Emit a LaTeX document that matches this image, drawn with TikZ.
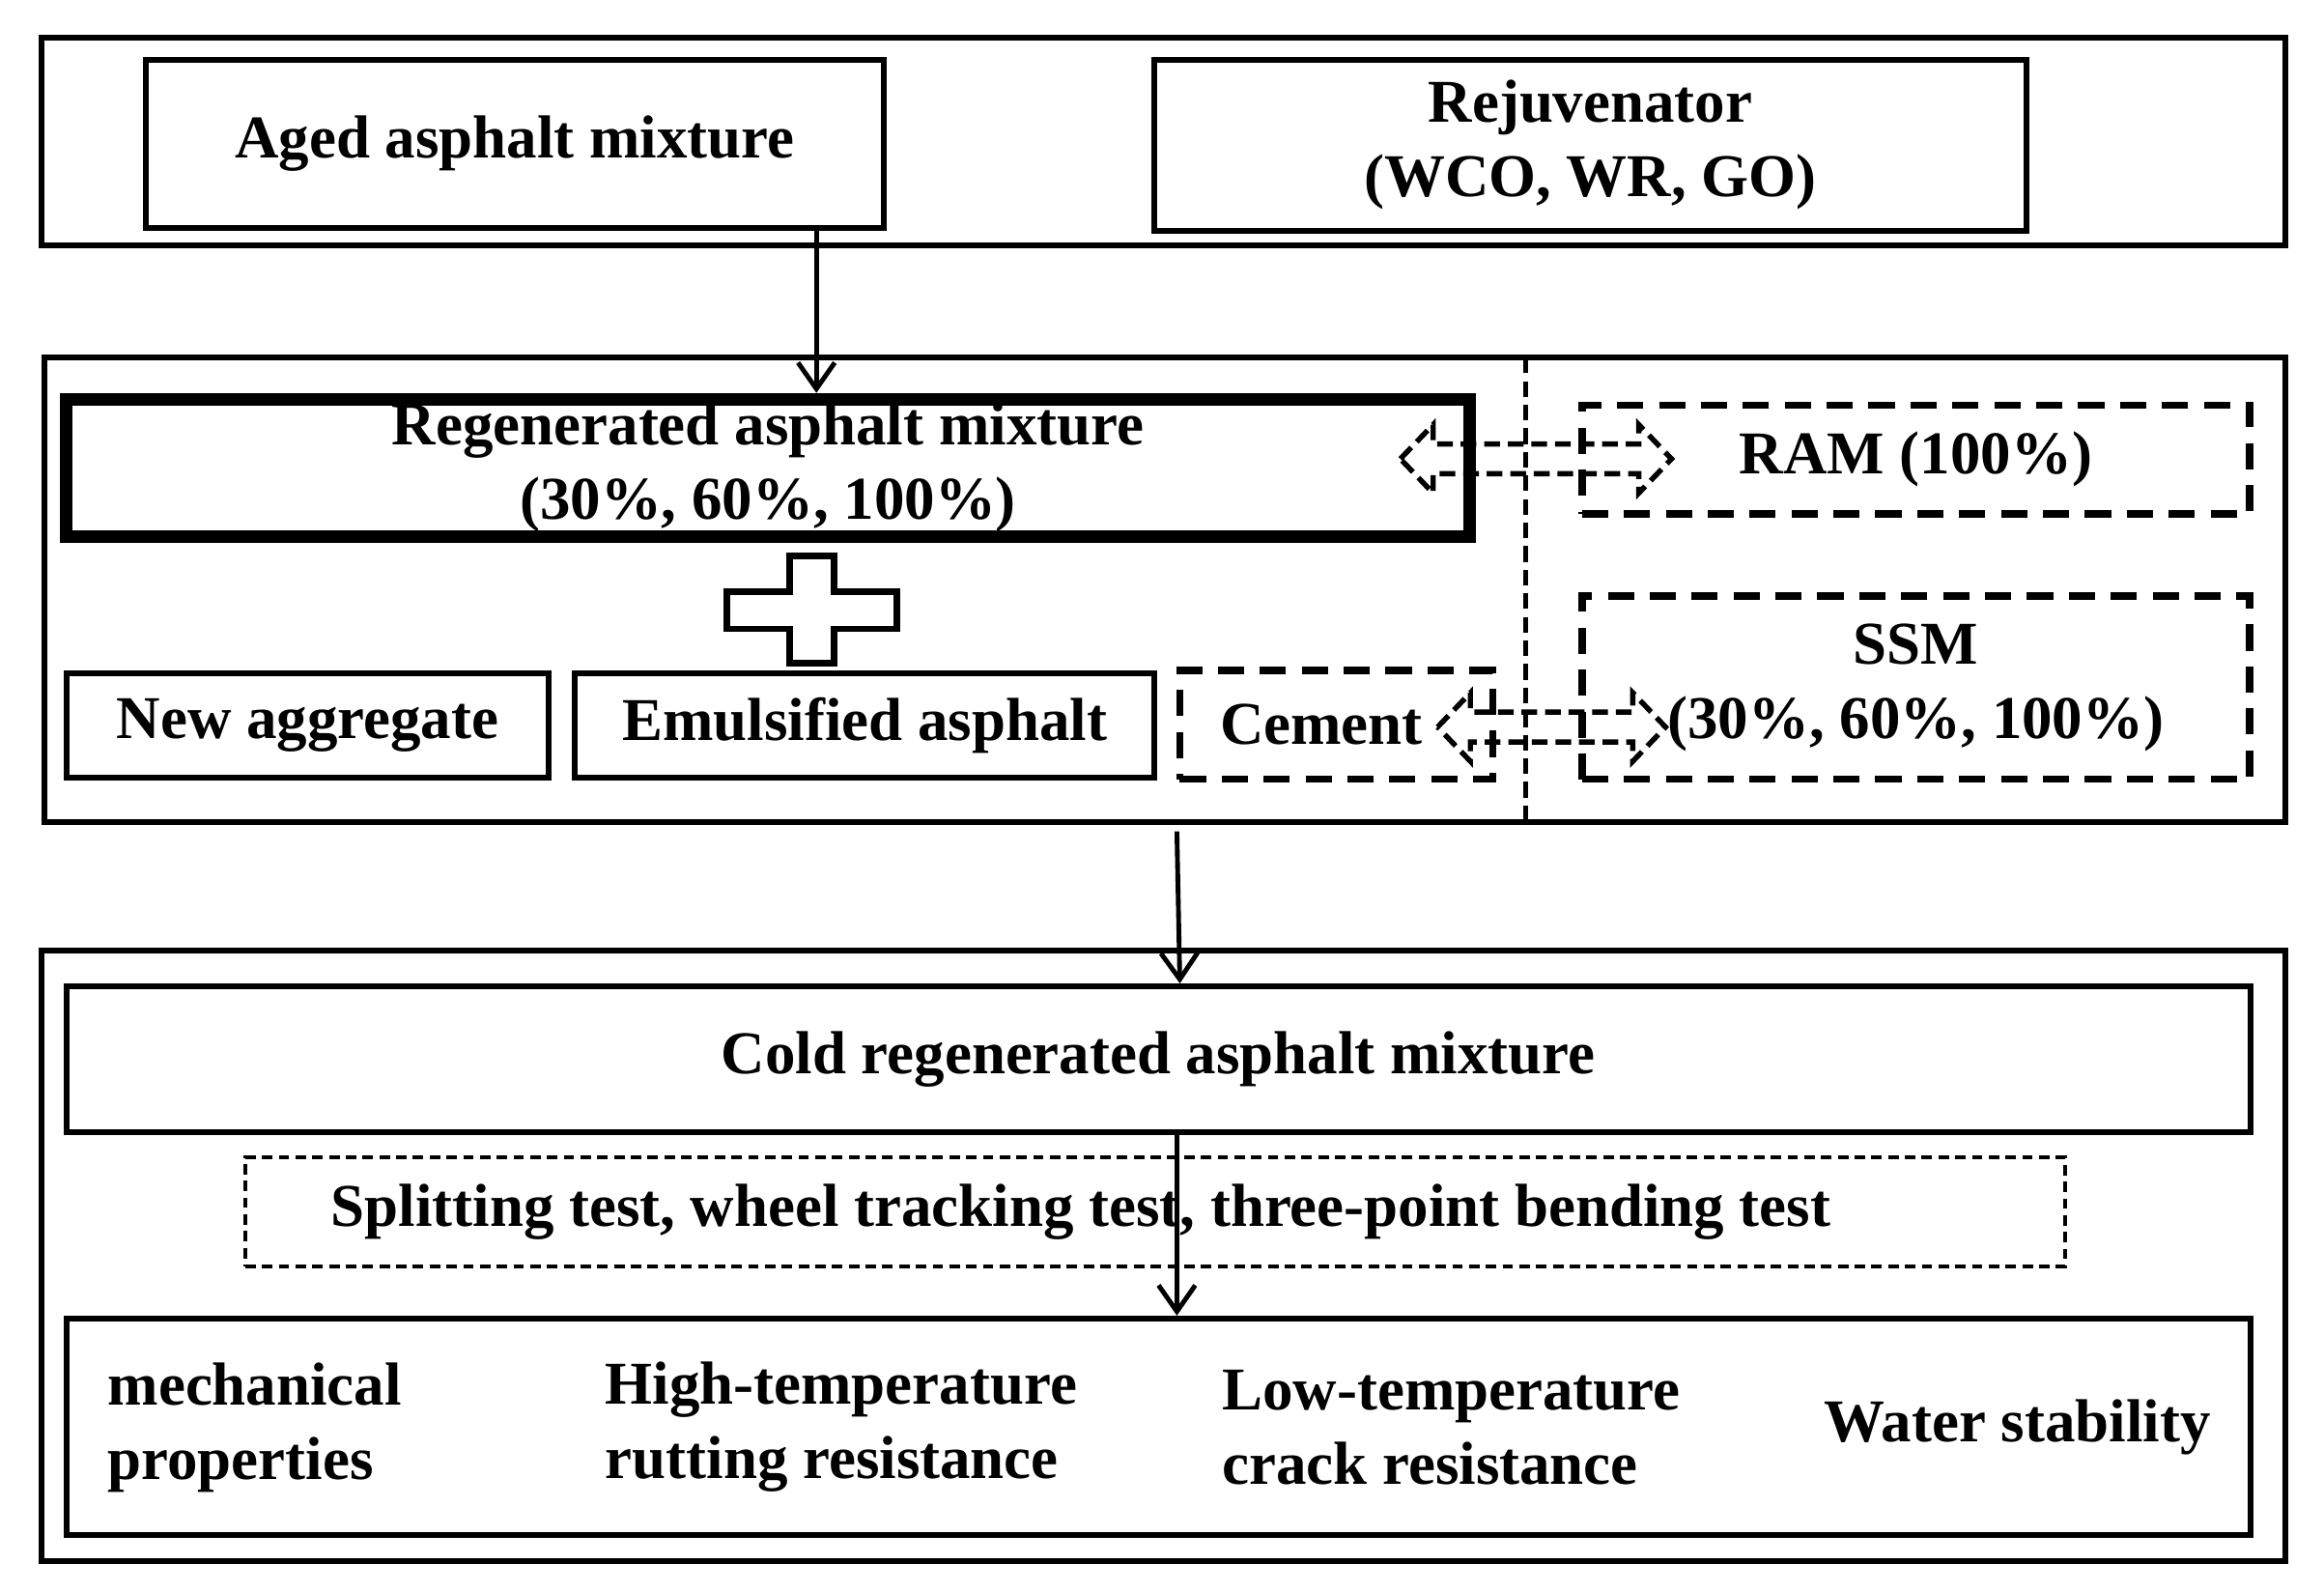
\documentclass[tikz,border=0pt]{standalone}
\usepackage{fontspec}
\setmainfont{Liberation Serif}
\usetikzlibrary{arrows.meta}
\begin{document}
\begin{tikzpicture}[x=0.01cm,y=-0.01cm,
  bx/.style={draw,line width=1.1pt},
  dbx/.style={draw,line width=1.4pt,dashed,dash pattern=on 5pt off 3pt},
  txt/.style={font=\fontsize{11.6}{14.2}\selectfont\bfseries,align=center},
  ltxt/.style={font=\fontsize{11.6}{14.2}\selectfont\bfseries,align=left,anchor=west},
  arr/.style={-{Straight Barb[length=5pt,width=7pt]},line width=0.9pt},
  darr/.style={draw,line width=1pt,dash pattern=on 3pt off 1.5pt}]
\useasboundingbox (0,0) rectangle (1560,1068);
% top
\draw[bx] (28,25) rectangle (1534,165);
\node[bx,minimum width=4.95cm,minimum height=1.13cm,txt] (aged) at (345.5,96.5) {Aged asphalt mixture};
\node[bx,minimum width=5.85cm,minimum height=1.15cm,txt] (rej) at (1067.5,97.5) {Rejuvenator\\(WCO, WR, GO)};
% middle
\draw[bx] (30,240) rectangle (1534,552);
\draw[line width=0.8pt,dash pattern=on 3pt off 1.5pt] (1024,240) -- (1024,552);
\node[draw,line width=2.4pt,minimum width=9.41cm,minimum height=0.92cm,txt,inner sep=0pt] (reg) at (515.5,314) {Regenerated asphalt mixture\\(30\%, 60\%, 100\%)};
\node[dbx,minimum width=4.48cm,minimum height=0.73cm,txt] (ram) at (1286,308.5) {RAM (100\%)};
\node[dbx,minimum width=4.48cm,minimum height=1.23cm,txt,inner sep=0pt] (ssm) at (1286,461.5) {SSM\\(30\%, 60\%, 100\%)};
\node[bx,minimum width=3.23cm,minimum height=0.7cm,txt] (na) at (206.5,487) {New aggregate};
\node[bx,minimum width=3.89cm,minimum height=0.7cm,txt] (ea) at (580.5,487) {Emulsified asphalt};
\node[dbx,minimum width=2.10cm,minimum height=0.73cm,txt,anchor=center] (cem) at (897,486.5) {\hspace*{-0.2cm}Cement};
\draw[arr] (aged.south -| 548,0) -- (reg.north -| 548,0);
% plus
\draw[line width=1.2pt,fill=white] (530,373) -- (560,373) -- (560,397) -- (602,397) -- (602,422) -- (560,422) -- (560,445) -- (530,445) -- (530,422) -- (488,422) -- (488,397) -- (530,397) -- cycle;
% double arrows
\foreach \xa/\xb/\yc in {940/1122/308, 965/1118/488}{
  \draw[darr] (\xa,\yc) -- (\xa+22,\yc-23) -- (\xa+22,\yc-10) -- (\xb-22,\yc-10) -- (\xb-22,\yc-23) -- (\xb,\yc) -- (\xb-22,\yc+23) -- (\xb-22,\yc+10) -- (\xa+22,\yc+10) -- (\xa+22,\yc+23) -- cycle;
}
% bottom
\draw[bx] (28,638) rectangle (1534,1048);
\node[bx,minimum width=14.65cm,minimum height=0.98cm,txt] (cold) at (777.5,711) {Cold regenerated asphalt mixture};
\node[draw,line width=0.8pt,dash pattern=on 2pt off 1.2pt,minimum width=12.21cm,minimum height=0.73cm,txt] (split) at (775.5,813.5) {\hspace*{-1.0cm}Splitting test, wheel tracking test, three-point bending test};
\node[bx,minimum width=14.65cm,minimum height=1.45cm] (res) at (777.5,957.5) {};
\draw[arr] (cold.south -| 790,0) -- (res.north -| 790,0);
\draw[arr] (790,558) -- (cold.north -| 792,0);
\node[ltxt] (m) at (60,958) {mechanical\\properties};
\node[ltxt] (h) at (394,958) {High-temperature\\rutting resistance};
\node[ltxt] (l) at (808,958) {Low-temperature\\crack resistance};
\node[ltxt] (w) at (1212,958) {Water stability};
\end{tikzpicture}
\end{document}
